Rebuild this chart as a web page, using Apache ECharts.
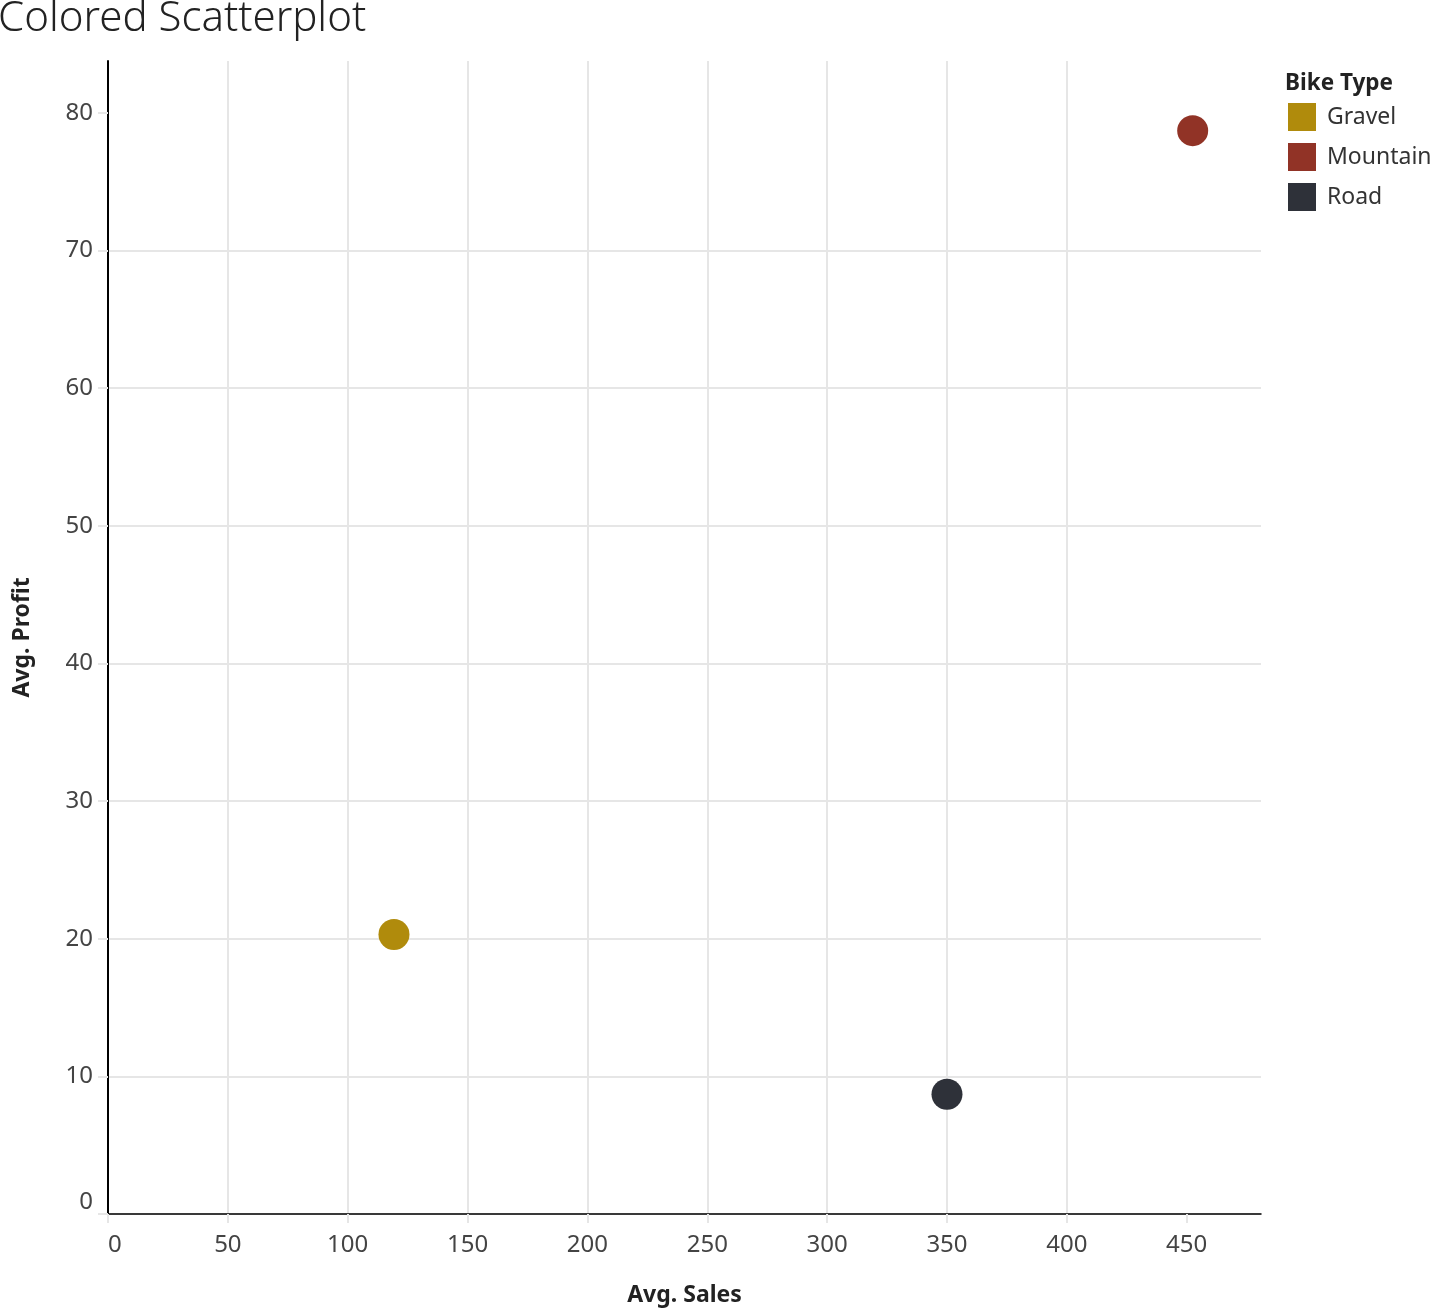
<!DOCTYPE html>
<html>
<head>
<meta charset="utf-8">
<title>Colored Scatterplot</title>
<script src="https://cdn.jsdelivr.net/npm/echarts@6/dist/echarts.min.js"></script>
<style>
  html, body { margin: 0; padding: 0; background: #fff; overflow: hidden; }
  #chart { width: 1434px; height: 1308px; }
</style>
</head>
<body>
<div id="chart"></div>
<script>
// data
const bikeTypes = ['Gravel', 'Mountain', 'Road'];
const avgSales = [119.3, 452.5, 350.0];
const avgProfit = [20.3, 78.7, 8.7];
const bikeColors = ['#b08b0c', '#913326', '#2e3139'];
const xTicks = [0, 50, 100, 150, 200, 250, 300, 350, 400, 450];
const yTicks = [0, 10, 20, 30, 40, 50, 60, 70, 80];

const font = 'Noto Sans';
const gridColor = '#e6e6e6';

const chart = echarts.init(document.getElementById('chart'));

const series = bikeTypes.map((name, i) => ({
  name: name,
  type: 'scatter',
  symbol: 'circle',
  symbolSize: 31,
  itemStyle: { color: bikeColors[i], opacity: 1 },
  data: [[avgSales[i], avgProfit[i]]]
}));

chart.setOption({
  animation: false,
  textStyle: { fontFamily: font },
  title: [
    {
      text: 'Colored Scatterplot',
      left: -7,
      top: -7,
      textStyle: { fontFamily: font, fontSize: 42, fontWeight: 300, color: '#222' }
    },
    {
      text: 'Bike Type',
      left: 1280,
      top: 67,
      textStyle: { fontFamily: font, fontSize: 22.5, fontWeight: 'bold', color: '#222' }
    }
  ],
  legend: {
    orient: 'vertical',
    left: 1283,
    top: 98,
    icon: 'rect',
    itemWidth: 28,
    itemHeight: 28,
    itemGap: 12,
    itemStyle: { borderWidth: 0 },
    textStyle: { fontFamily: font, fontSize: 23, color: '#333', padding: [2, 0, 0, 6] },
    data: bikeTypes
  },
  grid: { left: 108, right: 173, top: 61, bottom: 94, containLabel: false, outerBoundsMode: 'none' },
  xAxis: {
    type: 'value',
    min: 0,
    max: 481,
    interval: 50,
    name: 'Avg. Sales',
    nameLocation: 'middle',
    nameGap: 70,
    nameTextStyle: { fontFamily: font, fontSize: 23, fontWeight: 'bold', color: '#222' },
    axisLine: { show: true, onZero: false, lineStyle: { color: '#000', width: 1.5 } },
    axisTick: { show: true, length: 9, customValues: xTicks, lineStyle: { color: gridColor, width: 2 } },
    axisLabel: {
      customValues: xTicks,
      margin: 19,
      fontSize: 24,
      color: '#444',
      alignMinLabel: 'left',
      formatter: v => String(v)
    },
    splitLine: { show: true, showMaxLine: false, lineStyle: { color: gridColor, width: 2 } }
  },
  yAxis: {
    type: 'value',
    min: 0,
    max: 83.76,
    interval: 10,
    name: 'Avg. Profit',
    nameLocation: 'middle',
    nameGap: 74,
    nameRotate: 90,
    nameTextStyle: { fontFamily: font, fontSize: 23, fontWeight: 'bold', color: '#222' },
    axisLine: { show: true, onZero: false, lineStyle: { color: '#000', width: 2 } },
    axisTick: { show: true, length: 10, customValues: yTicks, lineStyle: { color: gridColor, width: 2 } },
    axisLabel: {
      customValues: yTicks,
      margin: 15,
      fontSize: 24,
      color: '#444',
      verticalAlignMinLabel: 'bottom',
      formatter: v => String(v)
    },
    splitLine: { show: true, showMaxLine: false, lineStyle: { color: gridColor, width: 2 } }
  },
  series: series
});
</script>
</body>
</html>
